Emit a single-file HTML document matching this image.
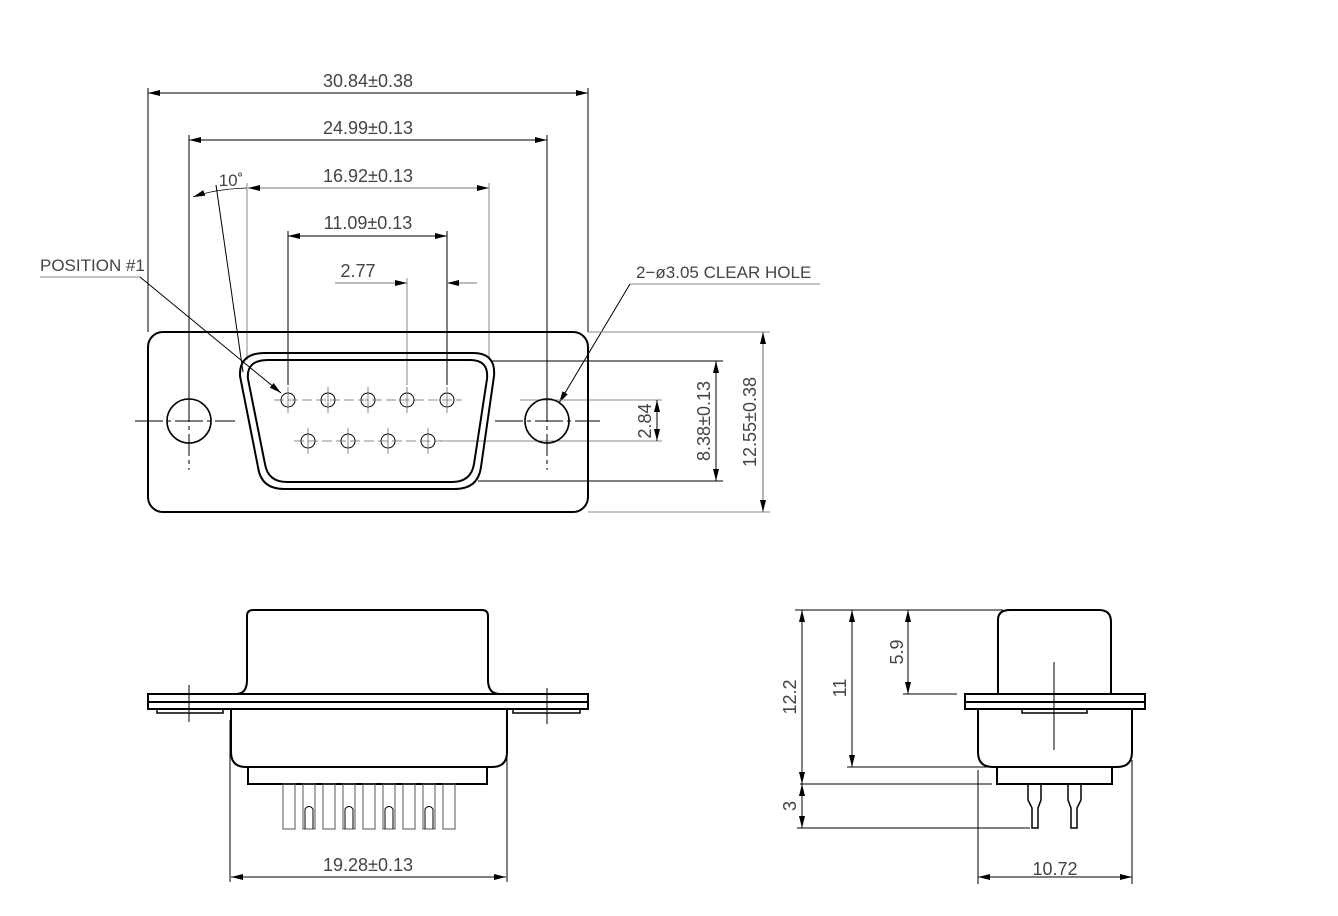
<!DOCTYPE html>
<html><head><meta charset="utf-8"><style>
html,body{margin:0;padding:0;background:#fff}
svg{display:block}
text{font-family:"Liberation Sans",sans-serif;font-size:18px;fill:#444}
</style></head><body>
<svg width="1338" height="916" viewBox="0 0 1338 916" xmlns="http://www.w3.org/2000/svg">
<defs>
<marker id="a" viewBox="0 0 12 6" refX="12" refY="3" markerWidth="12" markerHeight="6" orient="auto-start-reverse" markerUnits="userSpaceOnUse"><path d="M0,0L12,3L0,6z" fill="#000"/></marker>
</defs>
<g fill="none" stroke="#000" stroke-width="1">
<!-- top dims -->
<line x1="148" y1="93" x2="588" y2="93" marker-start="url(#a)" marker-end="url(#a)"/>
<line x1="148" y1="88" x2="148" y2="332"/><line x1="588" y1="88" x2="588" y2="332"/>
<line x1="189" y1="140" x2="547" y2="140" marker-start="url(#a)" marker-end="url(#a)"/>
<line x1="189" y1="135" x2="189" y2="400"/><line x1="547" y1="135" x2="547" y2="400"/>
<line x1="248" y1="188" x2="489" y2="188" stroke="#777" marker-start="url(#a)" marker-end="url(#a)"/>
<line x1="247" y1="183" x2="247" y2="360" stroke="#888"/><line x1="489" y1="183" x2="489" y2="360" stroke="#888"/>
<line x1="288" y1="236" x2="447" y2="236" marker-start="url(#a)" marker-end="url(#a)"/>
<line x1="288" y1="231" x2="288" y2="385"/><line x1="447" y1="231" x2="447" y2="385"/>
<line x1="335" y1="283" x2="407" y2="283" stroke="#777" marker-end="url(#a)"/>
<line x1="477" y1="283" x2="447" y2="283" stroke="#777" marker-end="url(#a)"/>
<line x1="407" y1="278" x2="407" y2="385" stroke="#888"/>
<!-- 10 deg -->
<path d="M193,197 Q215,189 247,188" marker-start="url(#a)" stroke-width="0.8"/>
<line x1="216" y1="185" x2="243" y2="372"/>
<!-- leaders -->
<line x1="40" y1="277" x2="140" y2="277" stroke="#888"/>
<line x1="140" y1="277" x2="281" y2="393" marker-end="url(#a)"/>
<line x1="630" y1="284" x2="820" y2="284" stroke="#888"/>
<line x1="630" y1="284" x2="559" y2="403" marker-end="url(#a)"/>
<!-- right dims -->
<line x1="588" y1="332" x2="770" y2="332" stroke="#888"/><line x1="588" y1="512" x2="770" y2="512" stroke="#888"/>
<line x1="763" y1="332" x2="763" y2="512" stroke="#666" marker-start="url(#a)" marker-end="url(#a)"/>
<line x1="490" y1="361" x2="723" y2="361"/><line x1="478" y1="481" x2="723" y2="481"/>
<line x1="716" y1="361" x2="716" y2="481" marker-start="url(#a)" marker-end="url(#a)"/>
<line x1="520" y1="400" x2="662" y2="400" stroke="#888"/><line x1="440" y1="441" x2="662" y2="441" stroke="#888"/>
<line x1="657" y1="400" x2="657" y2="441" marker-start="url(#a)" marker-end="url(#a)"/>
<!-- flange top view -->
<rect x="148" y="332" width="440" height="180" rx="15" stroke-width="2"/>
<circle cx="189" cy="421" r="22" stroke-width="1.6"/><circle cx="547" cy="421" r="22" stroke-width="1.6"/>
<line x1="135" y1="421" x2="235" y2="421" stroke-dasharray="28,4,4,4"/><line x1="495" y1="421" x2="600" y2="421" stroke-dasharray="28,4,4,4"/>
<line x1="189" y1="400" x2="189" y2="470" stroke-dasharray="22,4,4,4"/><line x1="547" y1="400" x2="547" y2="470" stroke-dasharray="22,4,4,4"/>
<path d="M265,353 L473,353 Q496,353 494,376 L481,467 Q478,489 455,489 L284,489 Q261,489 258,467 L240,376 Q239,353 265,353Z" stroke-width="2"/>
<path d="M268,360 L470,360 Q489,360 487,379 L474,464 Q471,482 452,482 L287,482 Q268,482 265,464 L248,379 Q246,360 268,360Z" stroke-width="2"/>
<g stroke-width="1">
<circle cx="288" cy="400" r="7"/><circle cx="328" cy="400" r="7"/><circle cx="368" cy="400" r="7"/><circle cx="407" cy="400" r="7"/><circle cx="447" cy="400" r="7"/>
<circle cx="308" cy="441" r="7"/><circle cx="348" cy="441" r="7"/><circle cx="388" cy="441" r="7"/><circle cx="428" cy="441" r="7"/>
</g>
<g stroke="#666" stroke-width="0.8">
<line x1="274" y1="400" x2="462" y2="400" stroke-dasharray="10,4"/>
<line x1="294" y1="441" x2="442" y2="441" stroke-dasharray="10,4"/>
<path d="M328,387v26M368,387v26M407,387v26M447,387v26M288,387v26M308,428v26M348,428v26M388,428v26M428,428v26"/>
</g>
<!-- front view -->
<path d="M236,694 Q247,694 247,680 L247,616 Q247,610 253,610 L482,610 Q488,610 488,616 L488,680 Q488,694 500,694" stroke-width="2"/>
<rect x="148" y="694" width="440" height="15" stroke-width="2"/>
<line x1="148" y1="702" x2="588" y2="702" stroke-width="2"/>
<path d="M157,709v4h66v-4M513,709v4h67v-4" stroke-width="1.5"/>
<path d="M231,709 L231,752 Q231,767 246,767 L492,767 Q507,767 507,752 L507,709" stroke-width="2"/>
<rect x="248" y="767" width="239" height="17" stroke-width="2"/>
<g stroke="#555">
<rect x="283" y="784" width="12" height="45"/><rect x="303" y="784" width="12" height="45"/><rect x="323" y="784" width="12" height="45"/><rect x="343" y="784" width="12" height="45"/><rect x="363" y="784" width="12" height="45"/><rect x="383" y="784" width="12" height="45"/><rect x="403" y="784" width="12" height="45"/><rect x="423" y="784" width="12" height="45"/><rect x="443" y="784" width="12" height="45"/>
<path d="M305,829v-20q4,-5 8,0v20M345,829v-20q4,-5 8,0v20M385,829v-20q4,-5 8,0v20M425,829v-20q4,-5 8,0v20" stroke="#000"/>
</g>
<line x1="189" y1="685" x2="189" y2="722"/><line x1="547" y1="688" x2="547" y2="724"/>
<line x1="230" y1="720" x2="230" y2="882"/><line x1="507" y1="720" x2="507" y2="882"/>
<line x1="231" y1="877" x2="506" y2="877" marker-start="url(#a)" marker-end="url(#a)"/>
<!-- side view -->
<path d="M998,694 L998,620 Q998,610 1010,610 L1099,610 Q1111,610 1111,622 L1111,694" stroke-width="2"/>
<rect x="965" y="694" width="180" height="15" stroke-width="2"/>
<line x1="965" y1="702" x2="1145" y2="702" stroke-width="2"/>
<path d="M1022,709v4h65v-4" stroke-width="1.5"/>
<path d="M978,709 L978,752 Q978,767 993,767 L1117,767 Q1132,767 1132,752 L1132,709" stroke-width="2"/>
<rect x="997" y="767" width="115" height="17" stroke-width="2"/>
<path d="M1028,784v16l4,8v20h6v-20l3,-8v-16M1068,784v16l3,8v20h6v-20l4,-8v-16" stroke-width="1.5"/>
<line x1="1054" y1="662" x2="1054" y2="750"/>
<line x1="795" y1="610" x2="1003" y2="610"/>
<line x1="800" y1="784" x2="992" y2="784"/>
<line x1="847" y1="767" x2="990" y2="767"/>
<line x1="903" y1="694" x2="957" y2="694"/>
<line x1="797" y1="828" x2="1030" y2="828"/>
<line x1="802" y1="610" x2="802" y2="784" marker-start="url(#a)" marker-end="url(#a)"/>
<line x1="852" y1="610" x2="852" y2="767" marker-start="url(#a)" marker-end="url(#a)"/>
<line x1="908" y1="610" x2="908" y2="694" marker-start="url(#a)" marker-end="url(#a)"/>
<line x1="802" y1="784" x2="802" y2="828" marker-start="url(#a)" marker-end="url(#a)"/>
<line x1="978" y1="770" x2="978" y2="884"/><line x1="1132" y1="760" x2="1132" y2="884"/>
<line x1="978" y1="877" x2="1132" y2="877" marker-start="url(#a)" marker-end="url(#a)"/>
</g>
<g>
<text x="368" y="87" text-anchor="middle">30.84±0.38</text>
<text x="368" y="134" text-anchor="middle">24.99±0.13</text>
<text x="368" y="182" text-anchor="middle">16.92±0.13</text>
<text x="368" y="229" text-anchor="middle">11.09±0.13</text>
<text x="358" y="277" text-anchor="middle">2.77</text>
<text x="231" y="186" text-anchor="middle" style="font-size:17px">10˚</text>
<text x="40" y="271" style="font-size:17px">POSITION  #1</text>
<text x="636" y="278" style="font-size:17px">2−ø3.05  CLEAR  HOLE</text>
<text transform="translate(756,422) rotate(-90)" text-anchor="middle">12.55±0.38</text>
<text transform="translate(710,421) rotate(-90)" text-anchor="middle">8.38±0.13</text>
<text transform="translate(651,421) rotate(-90)" text-anchor="middle">2.84</text>
<text x="368" y="871" text-anchor="middle">19.28±0.13</text>
<text x="1055" y="875" text-anchor="middle">10.72</text>
<text transform="translate(796,697) rotate(-90)" text-anchor="middle">12.2</text>
<text transform="translate(846,688) rotate(-90)" text-anchor="middle">11</text>
<text transform="translate(903,652) rotate(-90)" text-anchor="middle">5.9</text>
<text transform="translate(796,806) rotate(-90)" text-anchor="middle">3</text>
</g>
</svg>
</body></html>
